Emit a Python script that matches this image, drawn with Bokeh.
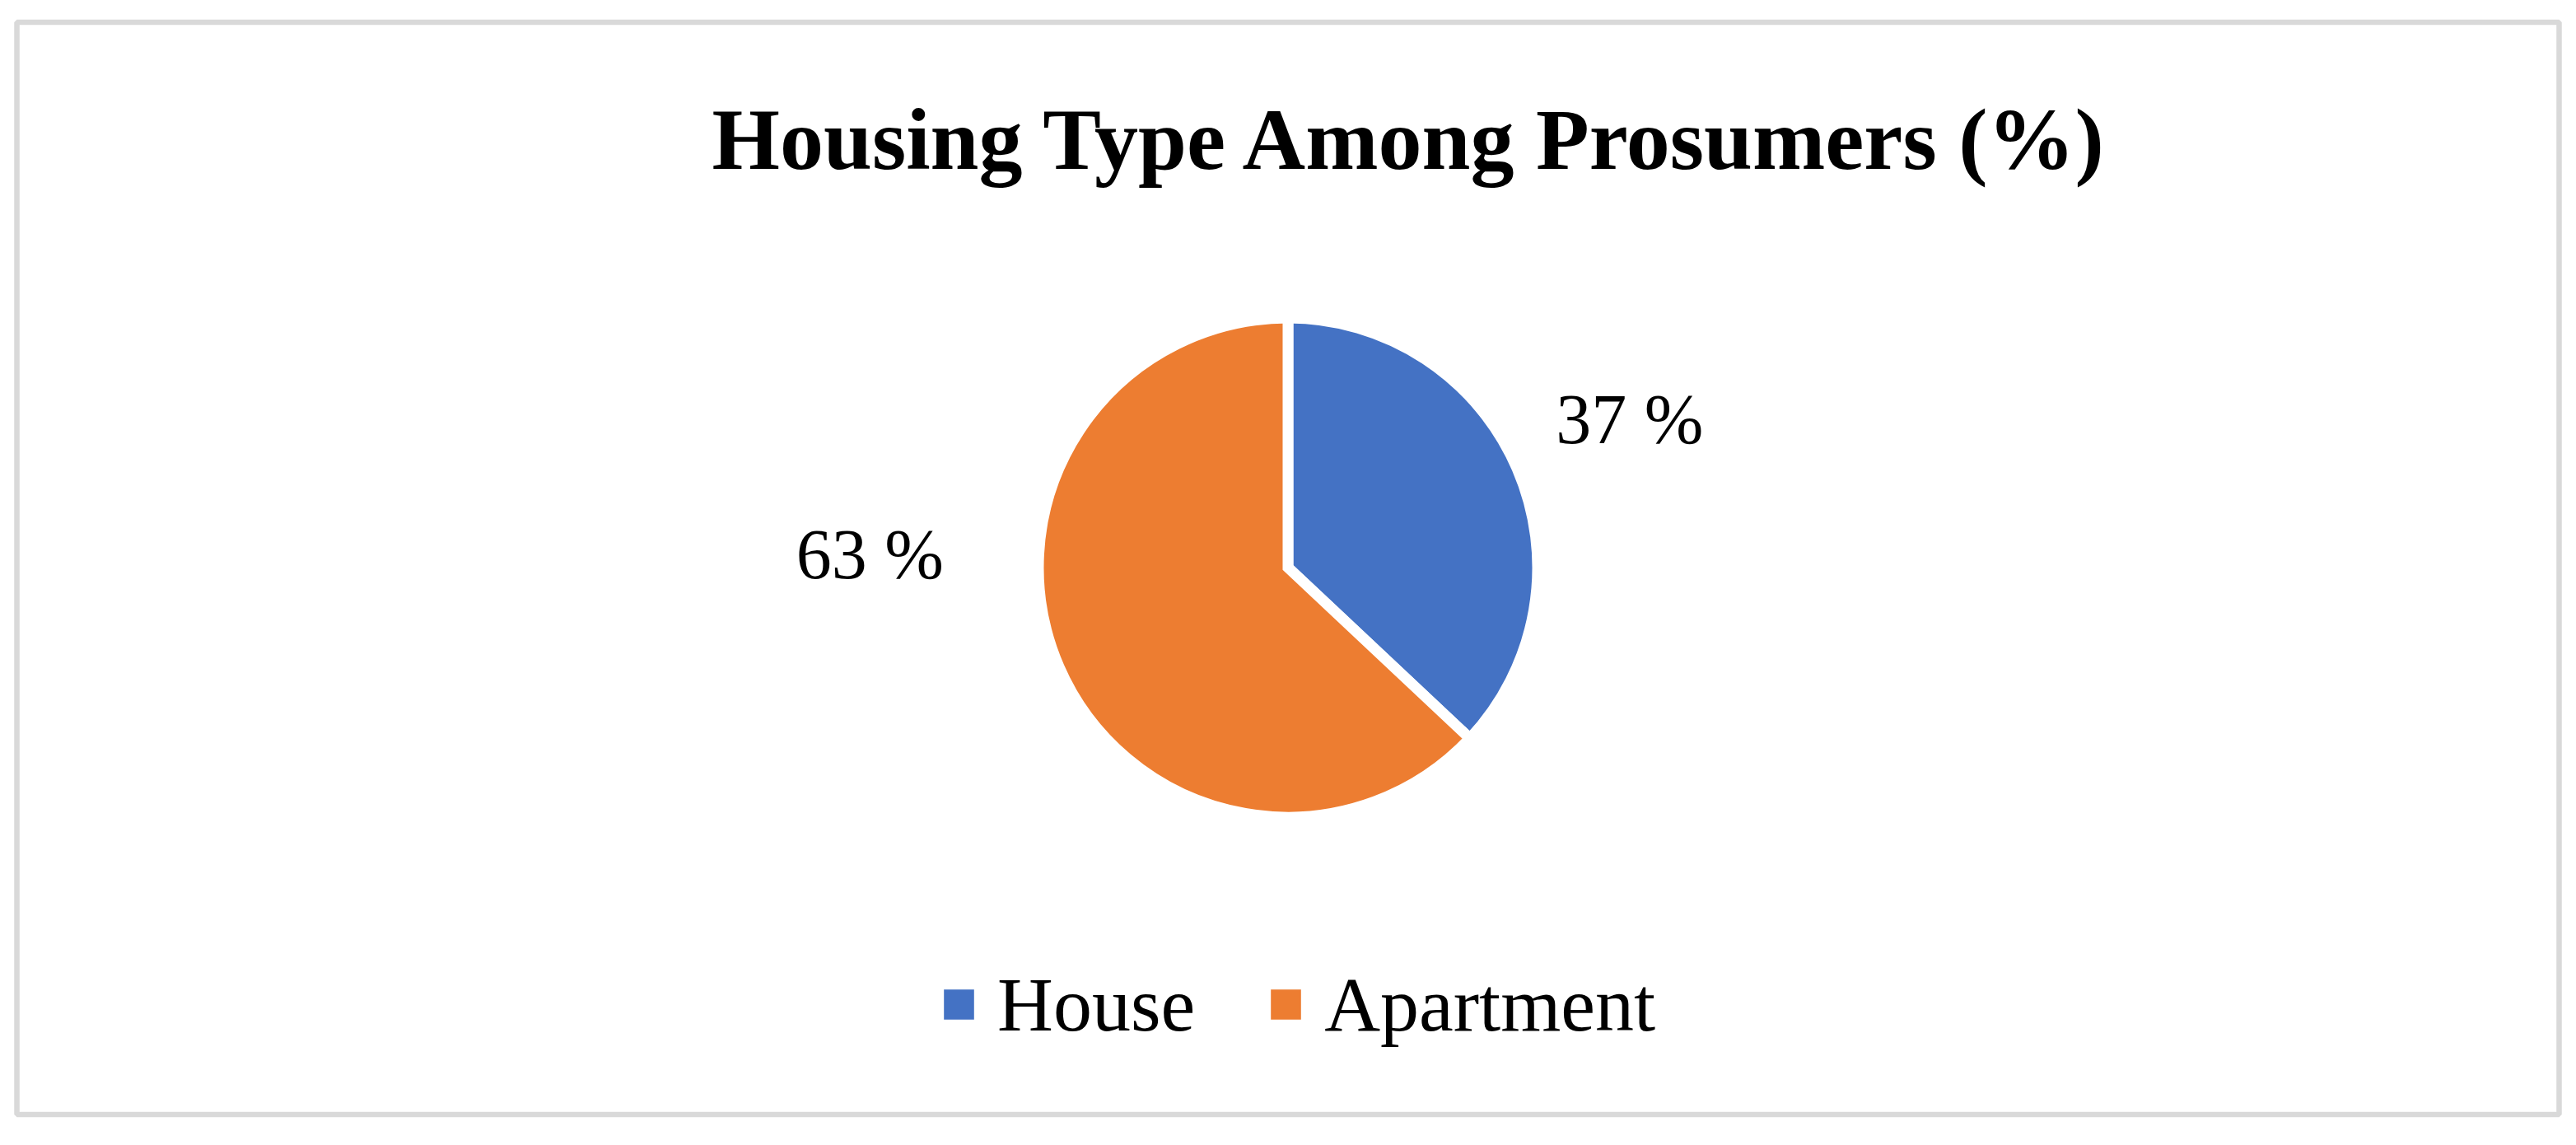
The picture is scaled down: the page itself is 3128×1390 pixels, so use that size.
import numpy as np
from bokeh.plotting import figure
from bokeh.models import Range1d, Legend, LegendItem, Label, ColumnDataSource
from bokeh.embed import file_html
from bokeh.resources import INLINE
from bokeh.core.properties import value

# ---------------- data ----------------
categories = ["House", "Apartment"]
shares = [37, 63]
colors = ["#4472C4", "#ED7D31"]
label_texts = [f"{v} %" for v in shares]
title_text = "Housing Type Among Prosumers (%)"

# ---------------- layout (pixels of the 3128x1390 window) ----------------
W, H = 3120, 1382
TOTAL_H = 1390
def Y(y_ref):
    return TOTAL_H - y_ref

CX, CY = 1563.5, 688.5        # pie centre
R = 303                       # wedge radius
GAP = 13                      # white separator width
label_angle_deg = [23.4, 178.25]
label_radius = [452, 508]
FONT = "Liberation Serif"

# ---------------- figure ----------------
p = figure(width=W, height=H, output_backend="svg", toolbar_location=None,
           x_range=Range1d(0, W), y_range=Range1d(TOTAL_H - H, TOTAL_H),
           min_border=0, outline_line_color=None)
p.axis.visible = False
p.grid.visible = False
p.background_fill_color = "white"
p.border_fill_color = "white"

# chart border
p.rect(x=(20 + 3107) / 2, y=Y((26.5 + 1352.5) / 2), width=3107 - 20, height=1352.5 - 26.5,
       fill_alpha=0, line_color="#D9D9D9", line_width=6.5)

# pie wedges (clockwise from 12 o'clock)
tot = float(sum(shares))
cum = np.concatenate([[0.0], np.cumsum(shares)]) / tot * 2 * np.pi
start = np.pi / 2 - cum[1:]
end = np.pi / 2 - cum[:-1]
src = ColumnDataSource(dict(x=[CX] * len(shares), y=[Y(CY)] * len(shares),
                            start=start, end=end, color=colors, cat=categories))
wr = p.wedge(x="x", y="y", radius=R, start_angle="start", end_angle="end",
             fill_color="color", line_color="white", line_width=GAP,
             line_join="miter", source=src)

# data labels
la = np.deg2rad(label_angle_deg)
lsrc = ColumnDataSource(dict(
    x=CX + np.array(label_radius) * np.cos(la),
    y=Y(CY) + np.array(label_radius) * np.sin(la),
    t=label_texts))
p.text(x="x", y="y", text="t", source=lsrc, text_align="center",
       text_baseline="alphabetic", text_font=value(FONT),
       text_font_size="86px", text_color="black")

# title
p.add_layout(Label(x=1713, y=Y(169), text=title_text, text_align="center",
                   text_baseline="alphabetic", text_font=FONT,
                   text_font_style="bold", text_font_size="106px",
                   text_color="black"))

# legend
items = [LegendItem(label=c, renderers=[wr], index=i) for i, c in enumerate(categories)]
legend = Legend(items=items, orientation="horizontal", location=(1133, 109),
                glyph_width=62, glyph_height=62, label_standoff=16, spacing=79,
                padding=0, margin=0, border_line_color=None,
                background_fill_alpha=0, label_text_font=FONT,
                label_text_font_size="94px", label_text_color="black")
p.add_layout(legend)

open("out.html", "w").write(file_html(p, INLINE))
